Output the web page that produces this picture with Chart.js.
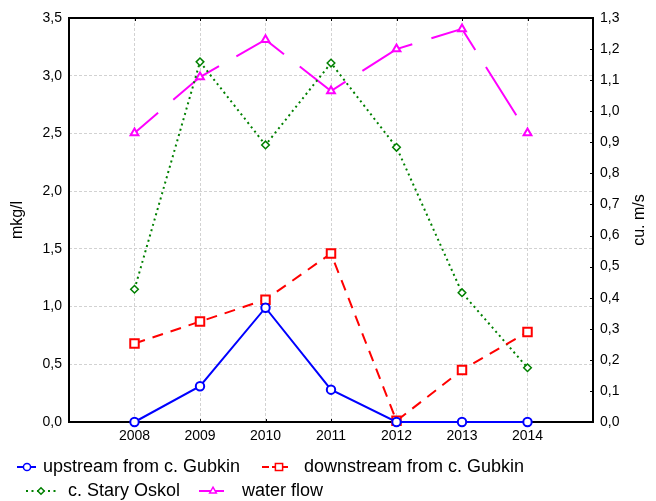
<!DOCTYPE html>
<html>
<head>
<meta charset="utf-8">
<script src="https://cdn.jsdelivr.net/npm/chart.js@4"></script>
<style>
  html, body { margin: 0; padding: 0; background: #fff; }
</style>
</head>
<body>
<canvas id="chart" width="656" height="501"></canvas>
<script>
// Datos del gráfico
const years = [2008, 2009, 2010, 2011, 2012, 2013, 2014];
const upstream = [0, 0.31, 0.99, 0.28, 0, 0, 0];
const downstream = [0.68, 0.87, 1.06, 1.46, 0.01, 0.45, 0.78];
const staryOskol = [1.15, 3.12, 2.40, 3.11, 2.38, 1.12, 0.47];
const waterFlow = [0.93, 1.11, 1.23, 1.065, 1.20, 1.265, 0.93];

const leftTicks = [0, 0.5, 1, 1.5, 2, 2.5, 3, 3.5];
const rightTicks = [0, 0.1, 0.2, 0.3, 0.4, 0.5, 0.6, 0.7, 0.8, 0.9, 1.0, 1.1, 1.2, 1.3];
const yearTicks = [2007, 2008, 2009, 2010, 2011, 2012, 2013, 2014, 2015];

const FONT = 'Liberation Sans, Arial, sans-serif';
const GRID = '#d2d2d2';

const toPoints = (vals) => years.map((yr, i) => ({ x: yr, y: vals[i] }));
const comma = (v) => Number(v).toFixed(1).replace('.', ',');
const setTicks = (list) => (scale) => { scale.ticks = list.map(v => ({ value: v })); };

// posiciones de la leyenda (dos filas, dos columnas)
const legendLayout = [
    { x0: 17, x1: 36, mx: 27, tx: 43, y: 467 },
    { x0: 262, x1: 288, mx: 279, tx: 304, y: 467 },
    { x0: 26, x1: 57, mx: 41, tx: 68, y: 491 },
    { x0: 199, x1: 224, mx: 213, tx: 242, y: 491 }
];

const framePlugin = {
    id: 'frame',
    beforeDatasetsDraw(chart) {
        const { ctx, chartArea: a, scales } = chart;
        ctx.save();
        ctx.setLineDash([]);
        ctx.strokeStyle = '#000';
        ctx.lineWidth = 1;
        // marcas interiores
        ctx.beginPath();
        years.forEach(yr => {
            const x = Math.round(scales.x.getPixelForValue(yr)) + 0.5;
            ctx.moveTo(x, a.top); ctx.lineTo(x, a.top + 3);
            ctx.moveTo(x, a.bottom); ctx.lineTo(x, a.bottom - 3);
        });
        rightTicks.forEach(v => {
            const y = Math.round(scales.y1.getPixelForValue(v)) + 0.5;
            ctx.moveTo(a.right, y); ctx.lineTo(a.right - 3, y);
        });
        ctx.stroke();
        ctx.lineWidth = 2;
        ctx.strokeRect(a.left, a.top, a.right - a.left, a.bottom - a.top);
        ctx.restore();
    },
    afterDraw(chart) {
        const { ctx, chartArea: a } = chart;
        ctx.save();
        // título derecho
        ctx.translate(640, (a.top + a.bottom) / 2);
        ctx.rotate(-Math.PI / 2);
        ctx.font = '16px ' + FONT;
        ctx.fillStyle = '#000';
        ctx.textAlign = 'center';
        ctx.textBaseline = 'middle';
        ctx.fillText('cu. m/s', 0, 0);
        ctx.restore();

        // leyenda
        chart.data.datasets.forEach((ds, i) => {
            const L = legendLayout[i];
            ctx.save();
            ctx.strokeStyle = ds.borderColor;
            ctx.lineWidth = 2;
            ctx.setLineDash(ds.legendDash || []);
            ctx.beginPath();
            ctx.moveTo(L.x0, L.y);
            ctx.lineTo(L.x1, L.y);
            ctx.stroke();
            ctx.setLineDash([]);
            ctx.fillStyle = '#fff';
            ctx.lineWidth = 1.5;
            Chart.helpers.drawPoint(ctx, {
                pointStyle: ds.pointStyle,
                radius: ds.pointRadius * 0.85,
                rotation: 0,
                borderWidth: 1.5
            }, L.mx, L.y);
            ctx.font = '18px ' + FONT;
            ctx.fillStyle = '#000';
            ctx.textBaseline = 'middle';
            ctx.textAlign = 'left';
            ctx.fillText(ds.label, L.tx, L.y);
            ctx.restore();
        });
    }
};

new Chart(document.getElementById('chart').getContext('2d'), {
    type: 'line',
    data: {
        datasets: [{
            label: 'upstream from c. Gubkin',
            data: toPoints(upstream),
            yAxisID: 'y',
            borderColor: '#0000ff',
            borderWidth: 2,
            pointStyle: 'circle',
            pointRadius: 4.2,
            pointBorderWidth: 2,
            pointBorderColor: '#0000ff',
            pointBackgroundColor: '#fff',
            legendDash: []
        }, {
            label: 'downstream from c. Gubkin',
            data: toPoints(downstream),
            yAxisID: 'y',
            borderColor: '#ff0000',
            borderWidth: 2,
            borderDash: [11, 8],
            pointStyle: 'rect',
            pointRadius: 6,
            pointBorderWidth: 2,
            pointBorderColor: '#ff0000',
            pointBackgroundColor: '#fff',
            legendDash: [7, 3]
        }, {
            label: 'c. Stary Oskol',
            data: toPoints(staryOskol),
            yAxisID: 'y',
            borderColor: '#008000',
            borderWidth: 2,
            borderDash: [2, 3.5],
            pointStyle: 'rectRot',
            pointRadius: 3.8,
            pointBorderWidth: 1.5,
            pointBorderColor: '#008000',
            pointBackgroundColor: '#fff',
            legendDash: [2, 3.5]
        }, {
            label: 'water flow',
            data: toPoints(waterFlow),
            yAxisID: 'y1',
            borderColor: '#ff00ff',
            borderWidth: 2,
            borderDash: [57, 20],
            borderDashOffset: 26,
            pointStyle: 'triangle',
            pointRadius: 4.5,
            pointBorderWidth: 2,
            pointBorderColor: '#ff00ff',
            pointBackgroundColor: '#fff',
            legendDash: []
        }]
    },
    options: {
        responsive: false,
        animation: false,
        clip: false,
        layout: { padding: { top: 18, left: 0, right: 0, bottom: 0 } },
        elements: { line: { tension: 0 } },
        plugins: { legend: { display: false }, tooltip: { enabled: false } },
        scales: {
            x: {
                type: 'linear',
                min: 2007,
                max: 2015,
                afterBuildTicks: setTicks(yearTicks),
                afterFit: (s) => { s.height = 79; },
                ticks: {
                    padding: 6,
                    color: '#000',
                    font: { family: FONT, size: 14 },
                    maxRotation: 0,
                    autoSkip: false,
                    callback: (v) => (v >= 2008 && v <= 2014) ? String(v) : ''
                },
                grid: {
                    drawTicks: false,
                    lineWidth: 1,
                    color: (c) => (c.tick && (c.tick.value === 2007 || c.tick.value === 2015)) ? 'rgba(0,0,0,0)' : GRID
                },
                border: { display: false, dash: [3, 2] }
            },
            y: {
                position: 'left',
                min: 0,
                max: 3.5,
                afterBuildTicks: setTicks(leftTicks),
                afterFit: (s) => { s.width = 69; },
                ticks: {
                    padding: 7,
                    color: '#000',
                    font: { family: FONT, size: 14 },
                    callback: comma
                },
                grid: { drawTicks: false, lineWidth: 1, color: GRID },
                border: { display: false, dash: [3, 2] },
                title: {
                    display: true,
                    text: 'mkg/l',
                    color: '#000',
                    font: { family: FONT, size: 16 },
                    padding: { top: 8, bottom: 0 }
                }
            },
            y1: {
                position: 'right',
                min: 0,
                max: 1.3,
                afterBuildTicks: setTicks(rightTicks),
                afterFit: (s) => { s.width = 63; },
                ticks: {
                    padding: 7,
                    color: '#000',
                    font: { family: FONT, size: 14 },
                    callback: comma
                },
                grid: { drawOnChartArea: false, drawTicks: false },
                border: { display: false }
            }
        }
    },
    plugins: [framePlugin]
});
</script>
</body>
</html>
